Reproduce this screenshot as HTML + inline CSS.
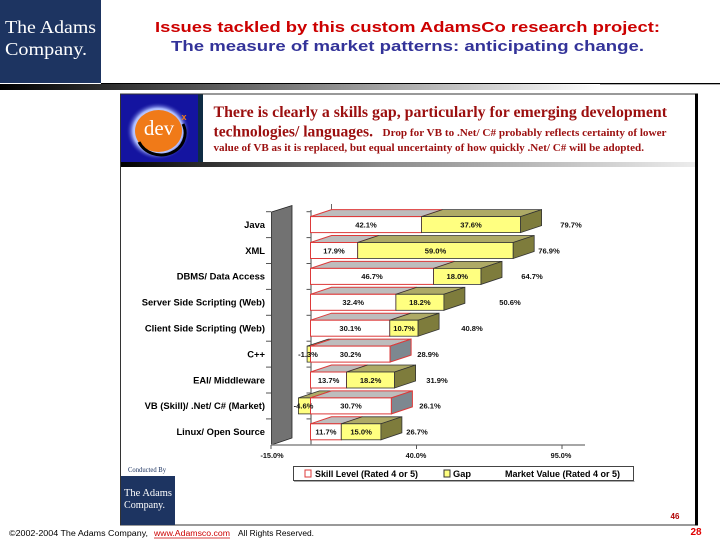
<!DOCTYPE html>
<html><head><meta charset="utf-8"><style>
html,body{margin:0;padding:0;background:#fff;width:720px;height:540px;overflow:hidden}
svg{display:block}
.cat{font-family:"Liberation Sans",Arial,sans-serif;font-weight:bold;font-size:9.4px;fill:#000;text-anchor:end}
.v{font-family:"Liberation Sans",Arial,sans-serif;font-weight:bold;font-size:7.6px;fill:#111;text-anchor:middle}
.st{fill:#bdbdbd;stroke:#dd3a3a;stroke-width:1}
.sf{fill:#fff;stroke:#dd3a3a;stroke-width:1}
.ss{fill:#7d8890;stroke:#dd3a3a;stroke-width:1}
.gt{fill:#aeaa66;stroke:#333;stroke-width:0.8}
.gf{fill:#ffff80;stroke:#333;stroke-width:0.8}
.gs{fill:#7e7c3c;stroke:#333;stroke-width:0.8}
.ser{font-family:"Liberation Serif","Times New Roman",serif;font-weight:bold;fill:#9b0f0f}
</style></head><body>
<svg width="720" height="540" viewBox="0 0 720 540" xmlns="http://www.w3.org/2000/svg">
<defs>
<linearGradient id="g1" x1="0" x2="1"><stop offset="0" stop-color="#000"/><stop offset="0.5" stop-color="#808080"/><stop offset="1" stop-color="#fff"/></linearGradient>
<linearGradient id="g2" x1="0" x2="1"><stop offset="0" stop-color="#000"/><stop offset="0.45" stop-color="#8a8a8a"/><stop offset="1" stop-color="#ececec"/></linearGradient>
<radialGradient id="halo"><stop offset="0.55" stop-color="#ffffff"/><stop offset="0.78" stop-color="#a8b8ff"/><stop offset="1" stop-color="#1414a0" stop-opacity="0"/></radialGradient>
</defs>

<!-- top-left logo -->
<rect x="0" y="0" width="101" height="83" fill="#1d3461"/>
<text x="5" y="33" font-family="'Liberation Serif',serif" font-size="18" fill="#fff" textLength="91" lengthAdjust="spacingAndGlyphs">The Adams</text>
<text x="5" y="55" font-family="'Liberation Serif',serif" font-size="18" fill="#fff" textLength="82" lengthAdjust="spacingAndGlyphs">Company.</text>

<!-- titles -->
<text x="155" y="32" font-family="'Liberation Sans',Arial,sans-serif" font-weight="bold" font-size="15" fill="#cc0000" textLength="505" lengthAdjust="spacingAndGlyphs">Issues tackled by this custom AdamsCo research project:</text>
<text x="171" y="51" font-family="'Liberation Sans',Arial,sans-serif" font-weight="bold" font-size="15" fill="#333399" textLength="473" lengthAdjust="spacingAndGlyphs">The measure of market patterns: anticipating change.</text>

<!-- top rule + gradient -->
<rect x="101" y="83" width="619" height="1.3" fill="#000"/>
<rect x="0" y="84" width="600" height="6" fill="url(#g1)"/>

<!-- panel -->
<rect x="120.5" y="94" width="576" height="431" fill="#fff" stroke="#333" stroke-width="1"/>
<rect x="695" y="93.5" width="3" height="432" fill="#000"/>

<!-- dev logo -->
<rect x="121" y="94.5" width="77" height="67.5" fill="#1414a0"/>
<rect x="198" y="94.5" width="5" height="67.5" fill="#0e2c44"/>
<ellipse cx="158" cy="131" rx="32" ry="29" fill="url(#halo)"/>
<ellipse cx="158.5" cy="131" rx="23.5" ry="21" fill="#f07a18"/>
<path d="M139 142 A22 20 0 0 0 183 124" fill="none" stroke="#000" stroke-width="3"/>
<text x="159" y="135" font-family="'Liberation Serif',serif" font-size="21" fill="#fff" text-anchor="middle">dev</text>
<text x="184" y="120" font-family="'Liberation Sans',sans-serif" font-weight="bold" font-size="9" fill="#f07a18" text-anchor="middle">x</text>

<!-- header text -->
<text class="ser" x="213.5" y="117" font-size="15.5" textLength="453.5" lengthAdjust="spacingAndGlyphs">There is clearly a skills gap, particularly for emerging development</text>
<text class="ser" x="213.5" y="136.5" font-size="15.5" textLength="159.5" lengthAdjust="spacingAndGlyphs">technologies/ languages.</text>
<text class="ser" x="382.5" y="136" font-size="11" textLength="284" lengthAdjust="spacingAndGlyphs">Drop for VB to .Net/ C# probably reflects certainty of lower</text>
<text class="ser" x="213.5" y="151" font-size="11" textLength="430.5" lengthAdjust="spacingAndGlyphs">value of VB as it is replaced, but equal uncertainty of how quickly .Net/ C# will be adopted.</text>

<!-- header gradient -->
<rect x="121" y="162" width="574" height="5" fill="url(#g2)"/>

<!-- chart wall -->
<polygon points="271.5,212 292,205.5 292,438 271.5,445" fill="#727272" stroke="#222" stroke-width="0.8"/>
<g stroke="#555" stroke-width="1">
<line x1="266" y1="211.7" x2="271" y2="211.7"/><line x1="266" y1="237.6" x2="271" y2="237.6"/><line x1="266" y1="263.5" x2="271" y2="263.5"/><line x1="266" y1="289.4" x2="271" y2="289.4"/><line x1="266" y1="315.3" x2="271" y2="315.3"/><line x1="266" y1="341.2" x2="271" y2="341.2"/><line x1="266" y1="367.1" x2="271" y2="367.1"/><line x1="266" y1="393" x2="271" y2="393"/><line x1="266" y1="418.9" x2="271" y2="418.9"/>
<line x1="306.5" y1="211.7" x2="311" y2="211.7"/><line x1="306.5" y1="237.6" x2="311" y2="237.6"/><line x1="306.5" y1="263.5" x2="311" y2="263.5"/><line x1="306.5" y1="289.4" x2="311" y2="289.4"/><line x1="306.5" y1="315.3" x2="311" y2="315.3"/><line x1="306.5" y1="341.2" x2="311" y2="341.2"/><line x1="306.5" y1="367.1" x2="311" y2="367.1"/><line x1="306.5" y1="393" x2="311" y2="393"/><line x1="306.5" y1="418.9" x2="311" y2="418.9"/>
</g>
<line x1="311" y1="210" x2="311" y2="445" stroke="#666" stroke-width="1.2"/>
<line x1="331.5" y1="204" x2="331.5" y2="210" stroke="#666" stroke-width="1"/>
<!-- x axis -->
<line x1="271" y1="445" x2="585" y2="445" stroke="#888" stroke-width="1.5"/>
<g stroke="#555" stroke-width="1"><line x1="271" y1="445" x2="271" y2="449"/><line x1="416.5" y1="445" x2="416.5" y2="449"/><line x1="562" y1="445" x2="562" y2="449"/></g>
<g class="v" style="font-size:7.3px">
<text x="272" y="458">-15.0%</text><text x="416" y="458">40.0%</text><text x="561" y="458">95.0%</text>
</g>

<!-- categories -->
<text class="cat" x="265" y="227.9">Java</text>
<text class="cat" x="265" y="253.8">XML</text>
<text class="cat" x="265" y="279.7">DBMS/ Data Access</text>
<text class="cat" x="265" y="305.6">Server Side Scripting (Web)</text>
<text class="cat" x="265" y="331.5">Client Side Scripting (Web)</text>
<text class="cat" x="265" y="357.4">C++</text>
<text class="cat" x="265" y="383.3">EAI/ Middleware</text>
<text class="cat" x="265" y="409.2">VB (Skill)/ .Net/ C# (Market)</text>
<text class="cat" x="265" y="435.1">Linux/ Open Source</text>

<!-- bars -->
<g transform="translate(0,216.6)">
<polygon class="st" points="310.5,0 421.5,0 442.5,-7 331.5,-7"/><rect class="sf" x="310.5" y="0" width="111" height="16"/>
<polygon class="gt" points="421.5,0 520.6,0 541.6,-7 442.5,-7"/><rect class="gf" x="421.5" y="0" width="99.1" height="16"/>
<polygon class="gs" points="520.6,0 541.6,-7 541.6,9 520.6,16"/>
<text class="v" x="366" y="10.8">42.1%</text><text class="v" x="471" y="10.8">37.6%</text><text class="v" x="571" y="10.8">79.7%</text>
</g>
<g transform="translate(0,242.5)">
<polygon class="st" points="310.5,0 357.7,0 378.7,-7 331.5,-7"/><rect class="sf" x="310.5" y="0" width="47.2" height="16"/>
<polygon class="gt" points="357.7,0 513.2,0 534.2,-7 378.7,-7"/><rect class="gf" x="357.7" y="0" width="155.5" height="16"/>
<polygon class="gs" points="513.2,0 534.2,-7 534.2,9 513.2,16"/>
<text class="v" x="334" y="10.8">17.9%</text><text class="v" x="435.5" y="10.8">59.0%</text><text class="v" x="549" y="10.8">76.9%</text>
</g>
<g transform="translate(0,268.4)">
<polygon class="st" points="310.5,0 433.6,0 454.6,-7 331.5,-7"/><rect class="sf" x="310.5" y="0" width="123.1" height="16"/>
<polygon class="gt" points="433.6,0 481,0 502,-7 454.6,-7"/><rect class="gf" x="433.6" y="0" width="47.4" height="16"/>
<polygon class="gs" points="481,0 502,-7 502,9 481,16"/>
<text class="v" x="372" y="10.8">46.7%</text><text class="v" x="457.3" y="10.8">18.0%</text><text class="v" x="532" y="10.8">64.7%</text>
</g>
<g transform="translate(0,294.3)">
<polygon class="st" points="310.5,0 395.9,0 416.9,-7 331.5,-7"/><rect class="sf" x="310.5" y="0" width="85.4" height="16"/>
<polygon class="gt" points="395.9,0 443.9,0 464.9,-7 416.9,-7"/><rect class="gf" x="395.9" y="0" width="48" height="16"/>
<polygon class="gs" points="443.9,0 464.9,-7 464.9,9 443.9,16"/>
<text class="v" x="353.2" y="10.8">32.4%</text><text class="v" x="419.9" y="10.8">18.2%</text><text class="v" x="510" y="10.8">50.6%</text>
</g>
<g transform="translate(0,320.2)">
<polygon class="st" points="310.5,0 389.8,0 410.8,-7 331.5,-7"/><rect class="sf" x="310.5" y="0" width="79.3" height="16"/>
<polygon class="gt" points="389.8,0 418.1,0 439.1,-7 410.8,-7"/><rect class="gf" x="389.8" y="0" width="28.3" height="16"/>
<polygon class="gs" points="418.1,0 439.1,-7 439.1,9 418.1,16"/>
<text class="v" x="350.2" y="10.8">30.1%</text><text class="v" x="404" y="10.8">10.7%</text><text class="v" x="472" y="10.8">40.8%</text>
</g>
<g transform="translate(0,346.1)">
<polygon class="gt" points="307.1,0 310.5,0 331.5,-7 328.1,-7"/><rect class="gf" x="307.1" y="0" width="3.4" height="16"/>
<polygon class="st" points="310.5,0 390.1,0 411.1,-7 331.5,-7"/><rect class="sf" x="310.5" y="0" width="79.6" height="16"/>
<polygon class="ss" points="390.1,0 411.1,-7 411.1,9 390.1,16"/>
<text class="v" x="308" y="10.8">-1.3%</text><text class="v" x="350.5" y="10.8">30.2%</text><text class="v" x="428" y="10.8">28.9%</text>
</g>
<g transform="translate(0,372)">
<polygon class="st" points="310.5,0 346.6,0 367.6,-7 331.5,-7"/><rect class="sf" x="310.5" y="0" width="36.1" height="16"/>
<polygon class="gt" points="346.6,0 394.6,0 415.6,-7 367.6,-7"/><rect class="gf" x="346.6" y="0" width="48" height="16"/>
<polygon class="gs" points="394.6,0 415.6,-7 415.6,9 394.6,16"/>
<text class="v" x="328.6" y="10.8">13.7%</text><text class="v" x="370.6" y="10.8">18.2%</text><text class="v" x="437" y="10.8">31.9%</text>
</g>
<g transform="translate(0,397.9)">
<polygon class="gt" points="298.4,0 310.5,0 331.5,-7 319.4,-7"/><rect class="gf" x="298.4" y="0" width="12.1" height="16"/>
<polygon class="st" points="310.5,0 391.4,0 412.4,-7 331.5,-7"/><rect class="sf" x="310.5" y="0" width="80.9" height="16"/>
<polygon class="ss" points="391.4,0 412.4,-7 412.4,9 391.4,16"/>
<text class="v" x="303.5" y="10.8">-4.6%</text><text class="v" x="351" y="10.8">30.7%</text><text class="v" x="430" y="10.8">26.1%</text>
</g>
<g transform="translate(0,423.8)">
<polygon class="st" points="310.5,0 341.3,0 362.3,-7 331.5,-7"/><rect class="sf" x="310.5" y="0" width="30.8" height="16"/>
<polygon class="gt" points="341.3,0 380.9,0 401.9,-7 362.3,-7"/><rect class="gf" x="341.3" y="0" width="39.6" height="16"/>
<polygon class="gs" points="380.9,0 401.9,-7 401.9,9 380.9,16"/>
<text class="v" x="325.9" y="10.8">11.7%</text><text class="v" x="361.1" y="10.8">15.0%</text><text class="v" x="417" y="10.8">26.7%</text>
</g>

<!-- legend -->
<rect x="293.5" y="466.5" width="340" height="14" fill="#fff" stroke="#444" stroke-width="1"/>
<line x1="294" y1="481.5" x2="634.5" y2="481.5" stroke="#aaa" stroke-width="1"/>
<rect x="305" y="470" width="6" height="7" fill="#fff" stroke="#dd3a3a" stroke-width="1"/>
<text x="315" y="477" font-family="'Liberation Sans',Arial,sans-serif" font-weight="bold" font-size="9" textLength="103" lengthAdjust="spacingAndGlyphs">Skill Level (Rated 4 or 5)</text>
<rect x="444" y="470" width="6" height="7" fill="#ffff80" stroke="#333" stroke-width="1"/>
<text x="453" y="477" font-family="'Liberation Sans',Arial,sans-serif" font-weight="bold" font-size="9" textLength="18" lengthAdjust="spacingAndGlyphs">Gap</text>
<text x="505" y="477" font-family="'Liberation Sans',Arial,sans-serif" font-weight="bold" font-size="9" textLength="115" lengthAdjust="spacingAndGlyphs">Market Value  (Rated 4 or 5)</text>

<!-- conducted by -->
<text x="128" y="472" font-family="'Liberation Serif',serif" font-size="7" fill="#1d3461" textLength="38" lengthAdjust="spacingAndGlyphs">Conducted By</text>
<rect x="121" y="476" width="54" height="49" fill="#1d3461"/>
<text x="124" y="496" font-family="'Liberation Serif',serif" font-size="10.5" fill="#fff" textLength="48" lengthAdjust="spacingAndGlyphs">The Adams</text>
<text x="124" y="508" font-family="'Liberation Serif',serif" font-size="10.5" fill="#fff" textLength="41" lengthAdjust="spacingAndGlyphs">Company.</text>

<text x="675" y="519" font-family="'Liberation Sans',Arial,sans-serif" font-weight="bold" font-size="8" fill="#b00000" text-anchor="middle">46</text>

<!-- footer -->
<text x="9" y="536" font-family="'Liberation Sans',Arial,sans-serif" font-size="8" fill="#000" textLength="139" lengthAdjust="spacingAndGlyphs">©2002-2004 The Adams Company,</text>
<text x="154" y="536" font-family="'Liberation Sans',Arial,sans-serif" font-size="8" fill="#cc0000" textLength="76" lengthAdjust="spacingAndGlyphs">www.Adamsco.com</text>
<line x1="154" y1="538" x2="230" y2="538" stroke="#cc0000" stroke-width="0.8"/>
<text x="238" y="536" font-family="'Liberation Sans',Arial,sans-serif" font-size="8" fill="#000" textLength="76" lengthAdjust="spacingAndGlyphs">All Rights Reserved.</text>
<text x="696" y="535" font-family="'Liberation Sans',Arial,sans-serif" font-weight="bold" font-size="10" fill="#e00000" text-anchor="middle">28</text>
</svg>
</body></html>
